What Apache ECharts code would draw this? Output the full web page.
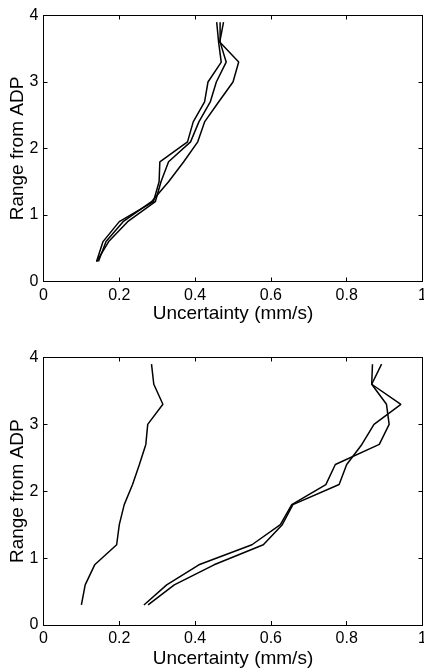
<!DOCTYPE html>
<html>
<head>
<meta charset="utf-8">
<script src="https://cdn.jsdelivr.net/npm/echarts@6/dist/echarts.min.js"></script>
<style>
html,body{margin:0;padding:0;background:#fff;}
#chart{width:424px;height:668px;}
</style>
</head>
<body>
<div id="chart"></div>
<script>
// Range levels (shared by all curves)
const ranges = [0.3, 0.6, 0.9, 1.2, 1.5, 1.8, 2.1, 2.4, 2.7, 3.0, 3.3, 3.6, 3.9];

// Top panel: three uncertainty profiles (mm/s)
const topA = [0.14, 0.157, 0.20, 0.29, 0.305, 0.307, 0.38, 0.395, 0.425, 0.434, 0.469, 0.462, 0.457];
const topB = [0.14, 0.172, 0.222, 0.295, 0.31, 0.33, 0.388, 0.41, 0.44, 0.456, 0.482, 0.466, 0.466];
const topC = [0.145, 0.165, 0.21, 0.285, 0.33, 0.37, 0.407, 0.425, 0.462, 0.50, 0.515, 0.465, 0.475];

// Bottom panel: three uncertainty profiles (mm/s)
const botA = [0.10, 0.11, 0.135, 0.193, 0.20, 0.213, 0.235, 0.253, 0.27, 0.275, 0.315, 0.291, 0.285];
const botB = [0.265, 0.325, 0.41, 0.55, 0.625, 0.655, 0.745, 0.77, 0.886, 0.912, 0.905, 0.866, 0.868];
const botC = [0.276, 0.345, 0.45, 0.58, 0.63, 0.658, 0.78, 0.80, 0.84, 0.872, 0.943, 0.866, 0.892];

// Axis tick settings
const xTicks = {min: 0, max: 1, interval: 0.2};
const yTicks = {min: 0, max: 4, interval: 1};
const xName = 'Uncertainty (mm/s)';
const yName = 'Range from ADP';

const FONT = 'Liberation Sans, Arial, Helvetica, sans-serif';
const pair = (xs) => xs.map((v, i) => [v, ranges[i]]);

function xAxes(grid, gap) {
  return [
    {
      type: 'value', gridIndex: grid, position: 'bottom', ...xTicks,
      name: xName, nameLocation: 'middle', nameGap: gap, nameMoveOverlap: false,
      nameTextStyle: {fontFamily: FONT, fontSize: 19, color: '#000'},
      axisLine: {show: true, onZero: false, lineStyle: {color: '#000', width: 1}},
      axisTick: {show: true, inside: true, length: 4, lineStyle: {color: '#000'}},
      axisLabel: {show: true, margin: 6, fontFamily: FONT, fontSize: 16, color: '#000'},
      splitLine: {show: false}
    },
    {
      type: 'value', gridIndex: grid, position: 'top', ...xTicks,
      axisLine: {show: true, onZero: false, lineStyle: {color: '#000', width: 1}},
      axisTick: {show: true, inside: true, length: 4, lineStyle: {color: '#000'}},
      axisLabel: {show: false},
      splitLine: {show: false}
    }
  ];
}
function yAxes(grid) {
  return [
    {
      type: 'value', gridIndex: grid, position: 'left', ...yTicks,
      name: yName, nameLocation: 'middle', nameGap: 16, nameRotate: 90, nameMoveOverlap: false,
      nameTextStyle: {fontFamily: FONT, fontSize: 19, color: '#000'},
      axisLine: {show: true, onZero: false, lineStyle: {color: '#000', width: 1}},
      axisTick: {show: true, inside: true, length: 4, lineStyle: {color: '#000'}},
      axisLabel: {show: true, margin: 5, fontFamily: FONT, fontSize: 16, color: '#000'},
      splitLine: {show: false}
    },
    {
      type: 'value', gridIndex: grid, position: 'right', ...yTicks,
      axisLine: {show: true, onZero: false, lineStyle: {color: '#000', width: 1}},
      axisTick: {show: true, inside: true, length: 4, lineStyle: {color: '#000'}},
      axisLabel: {show: false},
      splitLine: {show: false}
    }
  ];
}

const lineStyle = {color: '#000', width: 1.5};
function ser(xs, xi, yi) {
  return {
    type: 'line', xAxisIndex: xi, yAxisIndex: yi, data: pair(xs),
    symbol: 'none', lineStyle: lineStyle, itemStyle: {color: '#000'},
    animation: false, silent: true
  };
}

const chart = echarts.init(document.getElementById('chart'), null, {renderer: 'canvas'});
chart.setOption({
  backgroundColor: '#fff',
  animation: false,
  grid: [
    {left: 43.5, right: 1.5, top: 15.5, height: 266, containLabel: false, outerBoundsMode: 'none'},
    {left: 43.5, right: 1.5, top: 357.5, height: 267.5, containLabel: false, outerBoundsMode: 'none'}
  ],
  xAxis: [...xAxes(0, 23), ...xAxes(1, 24)],
  yAxis: [...yAxes(0), ...yAxes(1)],
  series: [
    ser(topA, 0, 0), ser(topB, 0, 0), ser(topC, 0, 0),
    ser(botA, 2, 2), ser(botB, 2, 2), ser(botC, 2, 2)
  ]
});
</script>
</body>
</html>
